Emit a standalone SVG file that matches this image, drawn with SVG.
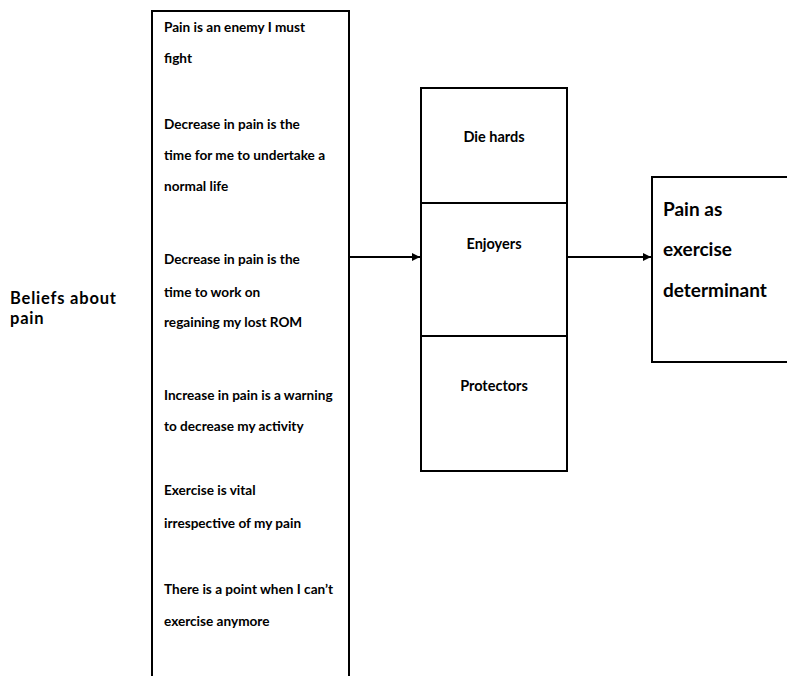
<svg xmlns="http://www.w3.org/2000/svg" width="787" height="676" viewBox="0 0 787 676">
  <style>
    .box { fill: #ffffff; stroke: #000000; stroke-width: 2; }
    .edge { fill: none; stroke: #000000; stroke-width: 2; }
    .t { font-family: Lato, "Liberation Sans", sans-serif; font-weight: bold; fill: #000000; }
    .belief { font-size: 13.6px; }
    .group { font-size: 14.5px; text-anchor: middle; }
    .side { font-size: 16.5px; letter-spacing: 0.8px; }
    .big { font-size: 19px; }
  </style>
  <defs>
    <marker id="arrow" viewBox="0 0 10 10" refX="10" refY="5" markerWidth="4" markerHeight="4" orient="auto" markerUnits="strokeWidth">
      <path d="M0,0 L10,5 L0,10 z" fill="#000000"/>
    </marker>
  </defs>
  <rect width="787" height="676" fill="#ffffff"/>

  <!-- label on the far left -->
  <g id="beliefs-label">
    <text class="t side" x="10" y="304">Beliefs about</text>
    <text class="t side" x="10" y="324">pain</text>
  </g>

  <!-- tall column of belief statements, open at the bottom -->
  <g id="beliefs">
    <path class="edge" d="M152,676 V11 H349 V676"/>
    <text class="t belief" x="164" y="32">Pain is an enemy I must</text>
    <text class="t belief" x="164" y="63">fight</text>
    <text class="t belief" x="164" y="129">Decrease in pain is the</text>
    <text class="t belief" x="164" y="160">time for me to undertake a</text>
    <text class="t belief" x="164" y="191">normal life</text>
    <text class="t belief" x="164" y="264">Decrease in pain is the</text>
    <text class="t belief" x="164" y="297">time to work on</text>
    <text class="t belief" x="164" y="327">regaining my lost ROM</text>
    <text class="t belief" x="164" y="400">Increase in pain is a warning</text>
    <text class="t belief" x="164" y="431">to decrease my activity</text>
    <text class="t belief" x="164" y="495">Exercise is vital</text>
    <text class="t belief" x="164" y="528">irrespective of my pain</text>
    <text class="t belief" x="164" y="594">There is a point when I can’t</text>
    <text class="t belief" x="164" y="626">exercise anymore</text>
  </g>

  <!-- stacked exerciser groups -->
  <g id="die-hards">
    <rect class="box" x="421" y="88" width="146" height="115"/>
    <text class="t group" x="494" y="142">Die hards</text>
  </g>
  <g id="enjoyers">
    <rect class="box" x="421" y="203" width="146" height="133"/>
    <text class="t group" x="494" y="249">Enjoyers</text>
  </g>
  <g id="protectors">
    <rect class="box" x="421" y="336" width="146" height="135"/>
    <text class="t group" x="494" y="391">Protectors</text>
  </g>

  <!-- outcome box, running off the right edge -->
  <g id="determinant">
    <path class="edge" d="M790,177 H652 V362 H790"/>
    <text class="t big" x="663" y="216">Pain as</text>
    <text class="t big" x="663" y="256">exercise</text>
    <text class="t big" x="663" y="297">determinant</text>
  </g>

  <g id="connectors">
    <line class="edge" x1="350" y1="257" x2="420" y2="257" marker-end="url(#arrow)"/>
    <line class="edge" x1="568" y1="257" x2="651" y2="257" marker-end="url(#arrow)"/>
  </g>
</svg>
